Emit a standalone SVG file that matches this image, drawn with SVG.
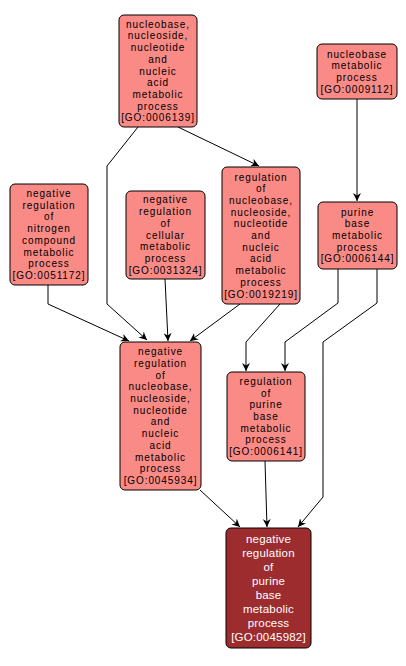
<svg xmlns="http://www.w3.org/2000/svg" width="406" height="666" viewBox="0 0 406 666">
<style>
.n rect{fill:#fa8a85;stroke:#000;stroke-width:1}
.n text{font-family:"Liberation Sans",Arial,sans-serif;font-size:10px;letter-spacing:0.9px;fill:#000;text-anchor:middle}
#I rect{fill:#9d2c2f}
#I text{fill:#fff;font-size:11.5px;letter-spacing:0.2px}
.e path{fill:none;stroke:#000;stroke-width:1;marker-end:url(#ah)}
</style>
<defs>
<marker id="ah" viewBox="0 0 10 10" refX="10" refY="5" markerWidth="8" markerHeight="8" markerUnits="userSpaceOnUse" orient="auto">
<path d="M0,0 L10,5 L0,10 L3,5 z" fill="#000"/>
</marker>
</defs>
<rect width="406" height="666" fill="#fff"/>
<g class="e">
<path d="M138,127 L107,166 L107,304 L147,340"/>
<path d="M178,127 L259,166"/>
<path d="M357,99 L357,201"/>
<path d="M48,285 L48,304 L129,341"/>
<path d="M165,279 L168,341"/>
<path d="M240,304 L190,341"/>
<path d="M280,304 L246,342 L246,371"/>
<path d="M338,269 L338,303 L285,342 L285,371"/>
<path d="M377,269 L377,303 L323,342 L323,497 L298,527"/>
<path d="M200,490 L240,527"/>
<path d="M265,461 L267,527"/>
</g>
<g id="A" class="n"><rect x="119" y="15" width="78" height="112" rx="5"/>
<text><tspan x="158" y="27.7">nucleobase,</tspan><tspan x="158" y="39.4">nucleoside,</tspan><tspan x="158" y="51.1">nucleotide</tspan><tspan x="158" y="62.8">and</tspan><tspan x="158" y="74.5">nucleic</tspan><tspan x="158" y="86.2">acid</tspan><tspan x="158" y="97.9">metabolic</tspan><tspan x="158" y="109.6">process</tspan><tspan x="158" y="121.3">[GO:0006139]</tspan></text></g>
<g id="B" class="n"><rect x="317" y="44" width="80" height="55" rx="5"/>
<text><tspan x="357" y="57.5">nucleobase</tspan><tspan x="357" y="69.2">metabolic</tspan><tspan x="357" y="80.9">process</tspan><tspan x="357" y="92.6">[GO:0009112]</tspan></text></g>
<g id="C" class="n"><rect x="10" y="184" width="78" height="101" rx="5"/>
<text><tspan x="49" y="197">negative</tspan><tspan x="49" y="208.7">regulation</tspan><tspan x="49" y="220.4">of</tspan><tspan x="49" y="232.1">nitrogen</tspan><tspan x="49" y="243.8">compound</tspan><tspan x="49" y="255.5">metabolic</tspan><tspan x="49" y="267.2">process</tspan><tspan x="49" y="278.9">[GO:0051172]</tspan></text></g>
<g id="D" class="n"><rect x="126" y="191" width="79" height="88" rx="5"/>
<text><tspan x="165.5" y="203.4">negative</tspan><tspan x="165.5" y="215.1">regulation</tspan><tspan x="165.5" y="226.8">of</tspan><tspan x="165.5" y="238.5">cellular</tspan><tspan x="165.5" y="250.2">metabolic</tspan><tspan x="165.5" y="261.9">process</tspan><tspan x="165.5" y="273.6">[GO:0031324]</tspan></text></g>
<g id="E" class="n"><rect x="222" y="167" width="78" height="137" rx="5"/>
<text><tspan x="261" y="180.5">regulation</tspan><tspan x="261" y="192.2">of</tspan><tspan x="261" y="203.9">nucleobase,</tspan><tspan x="261" y="215.6">nucleoside,</tspan><tspan x="261" y="227.3">nucleotide</tspan><tspan x="261" y="239">and</tspan><tspan x="261" y="250.7">nucleic</tspan><tspan x="261" y="262.4">acid</tspan><tspan x="261" y="274.1">metabolic</tspan><tspan x="261" y="285.8">process</tspan><tspan x="261" y="297.5">[GO:0019219]</tspan></text></g>
<g id="F" class="n"><rect x="318" y="202" width="79" height="67" rx="5"/>
<text><tspan x="357.5" y="215.6">purine</tspan><tspan x="357.5" y="227.3">base</tspan><tspan x="357.5" y="239">metabolic</tspan><tspan x="357.5" y="250.7">process</tspan><tspan x="357.5" y="262.4">[GO:0006144]</tspan></text></g>
<g id="G" class="n"><rect x="120" y="342" width="81" height="148" rx="5"/>
<text><tspan x="160.5" y="355.2">negative</tspan><tspan x="160.5" y="366.9">regulation</tspan><tspan x="160.5" y="378.6">of</tspan><tspan x="160.5" y="390.3">nucleobase,</tspan><tspan x="160.5" y="402">nucleoside,</tspan><tspan x="160.5" y="413.7">nucleotide</tspan><tspan x="160.5" y="425.4">and</tspan><tspan x="160.5" y="437.1">nucleic</tspan><tspan x="160.5" y="448.8">acid</tspan><tspan x="160.5" y="460.5">metabolic</tspan><tspan x="160.5" y="472.2">process</tspan><tspan x="160.5" y="483.9">[GO:0045934]</tspan></text></g>
<g id="H" class="n"><rect x="227" y="372" width="78" height="89" rx="5"/>
<text><tspan x="266" y="384.9">regulation</tspan><tspan x="266" y="396.6">of</tspan><tspan x="266" y="408.3">purine</tspan><tspan x="266" y="420">base</tspan><tspan x="266" y="431.7">metabolic</tspan><tspan x="266" y="443.4">process</tspan><tspan x="266" y="455.1">[GO:0006141]</tspan></text></g>
<g id="I" class="n"><rect x="226" y="528" width="85" height="120" rx="5"/>
<text><tspan x="268.5" y="543.4">negative</tspan><tspan x="268.5" y="557.3">regulation</tspan><tspan x="268.5" y="571.2">of</tspan><tspan x="268.5" y="585.1">purine</tspan><tspan x="268.5" y="599">base</tspan><tspan x="268.5" y="612.9">metabolic</tspan><tspan x="268.5" y="626.8">process</tspan><tspan x="268.5" y="640.7">[GO:0045982]</tspan></text></g>
</svg>
